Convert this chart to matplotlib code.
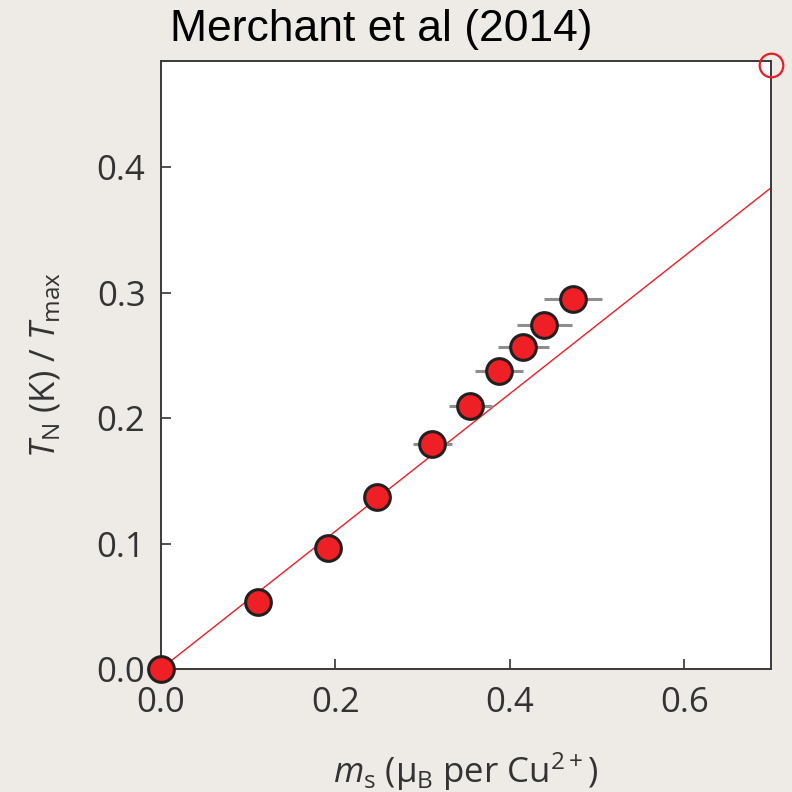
import matplotlib
matplotlib.use("Agg")
import matplotlib.pyplot as plt
import numpy as np

# Data
ms = [0.0, 0.112, 0.1915, 0.2477, 0.3115, 0.355, 0.3883, 0.4158, 0.4399, 0.4729]
tn = [0.0, 0.0532, 0.0967, 0.1373, 0.179, 0.2096, 0.2372, 0.2568, 0.2741, 0.2946]
ms_err = [0.0, 0.0, 0.0, 0.012, 0.022, 0.025, 0.0275, 0.0295, 0.0315, 0.033]
fit_x = [0.0, 0.7]
fit_y = [0.0, 0.3837]
corner_x = [0.7]
corner_y = [0.481]
xticks = [0.0, 0.2, 0.4, 0.6]
yticks = [0.0, 0.1, 0.2, 0.3, 0.4]
xtick_labels = ["0.0", "0.2", "0.4", "0.6"]
ytick_labels = ["0.0", "0.1", "0.2", "0.3", "0.4"]

plt.rcParams["mathtext.fontset"] = "custom"
plt.rcParams["mathtext.rm"] = "Open Sans"
plt.rcParams["mathtext.it"] = "Open Sans:italic"
plt.rcParams["mathtext.bf"] = "Open Sans:bold"

bg = "#eeebe6"
fig = plt.figure(figsize=(7.92, 7.92), dpi=100, facecolor=bg)
ax = fig.add_axes([0.2029, 0.1553, 0.974 - 0.2029, 0.923 - 0.1553])
ax.set_facecolor("white")

ax.plot(fit_x, fit_y, color="#ec1c24", lw=1.0, zorder=2)
ax.errorbar(ms, tn, xerr=ms_err, fmt="none", ecolor="#8e8e8e", elinewidth=2.2,
            capsize=0, zorder=3)
ax.plot(ms, tn, "o", ms=18.5, mfc="#ee2026", mec="#231f20", mew=2.2,
        clip_on=False, zorder=4)
ax.plot(corner_x, corner_y, "o", ms=17, mfc="none", mec="#ec1c24", mew=1.6,
        clip_on=False, zorder=5)

ax.set_xlim(0, 0.7)
ax.set_ylim(0, 0.4845)
ax.set_xticks(xticks)
ax.set_xticklabels(xtick_labels)
ax.set_yticks(yticks)
ax.set_yticklabels(ytick_labels)

for lab in ax.get_xticklabels() + ax.get_yticklabels():
    lab.set_fontfamily(["Open Sans", "DejaVu Sans"])
    lab.set_fontsize(25)
    lab.set_color("#333333")

ax.tick_params(direction="in", length=7, width=1.2, color="#333333")
ax.tick_params(axis="x", pad=12)
ax.tick_params(axis="y", pad=11)
for s in ax.spines.values():
    s.set_color("#3a3a3a")
    s.set_linewidth(1.4)

labfont = dict(family=["Open Sans", "DejaVu Sans"], size=25, color="#333333")
ax.set_xlabel(r"$m_\mathrm{s}$ ($\mathrm{\mu_B}$ per Cu$^{2+}$)", fontdict=labfont, labelpad=22)
ax.set_ylabel(r"$T_\mathrm{N}$ (K) / $T_\mathrm{max}$", fontdict=labfont, labelpad=24)

fig.text(0.481, 0.963, "Merchant et al (2014)", ha="center", va="center",
         fontsize=32, family=["Liberation Sans", "DejaVu Sans"], color="black")

fig.savefig("out.png", dpi=100, facecolor=bg)
